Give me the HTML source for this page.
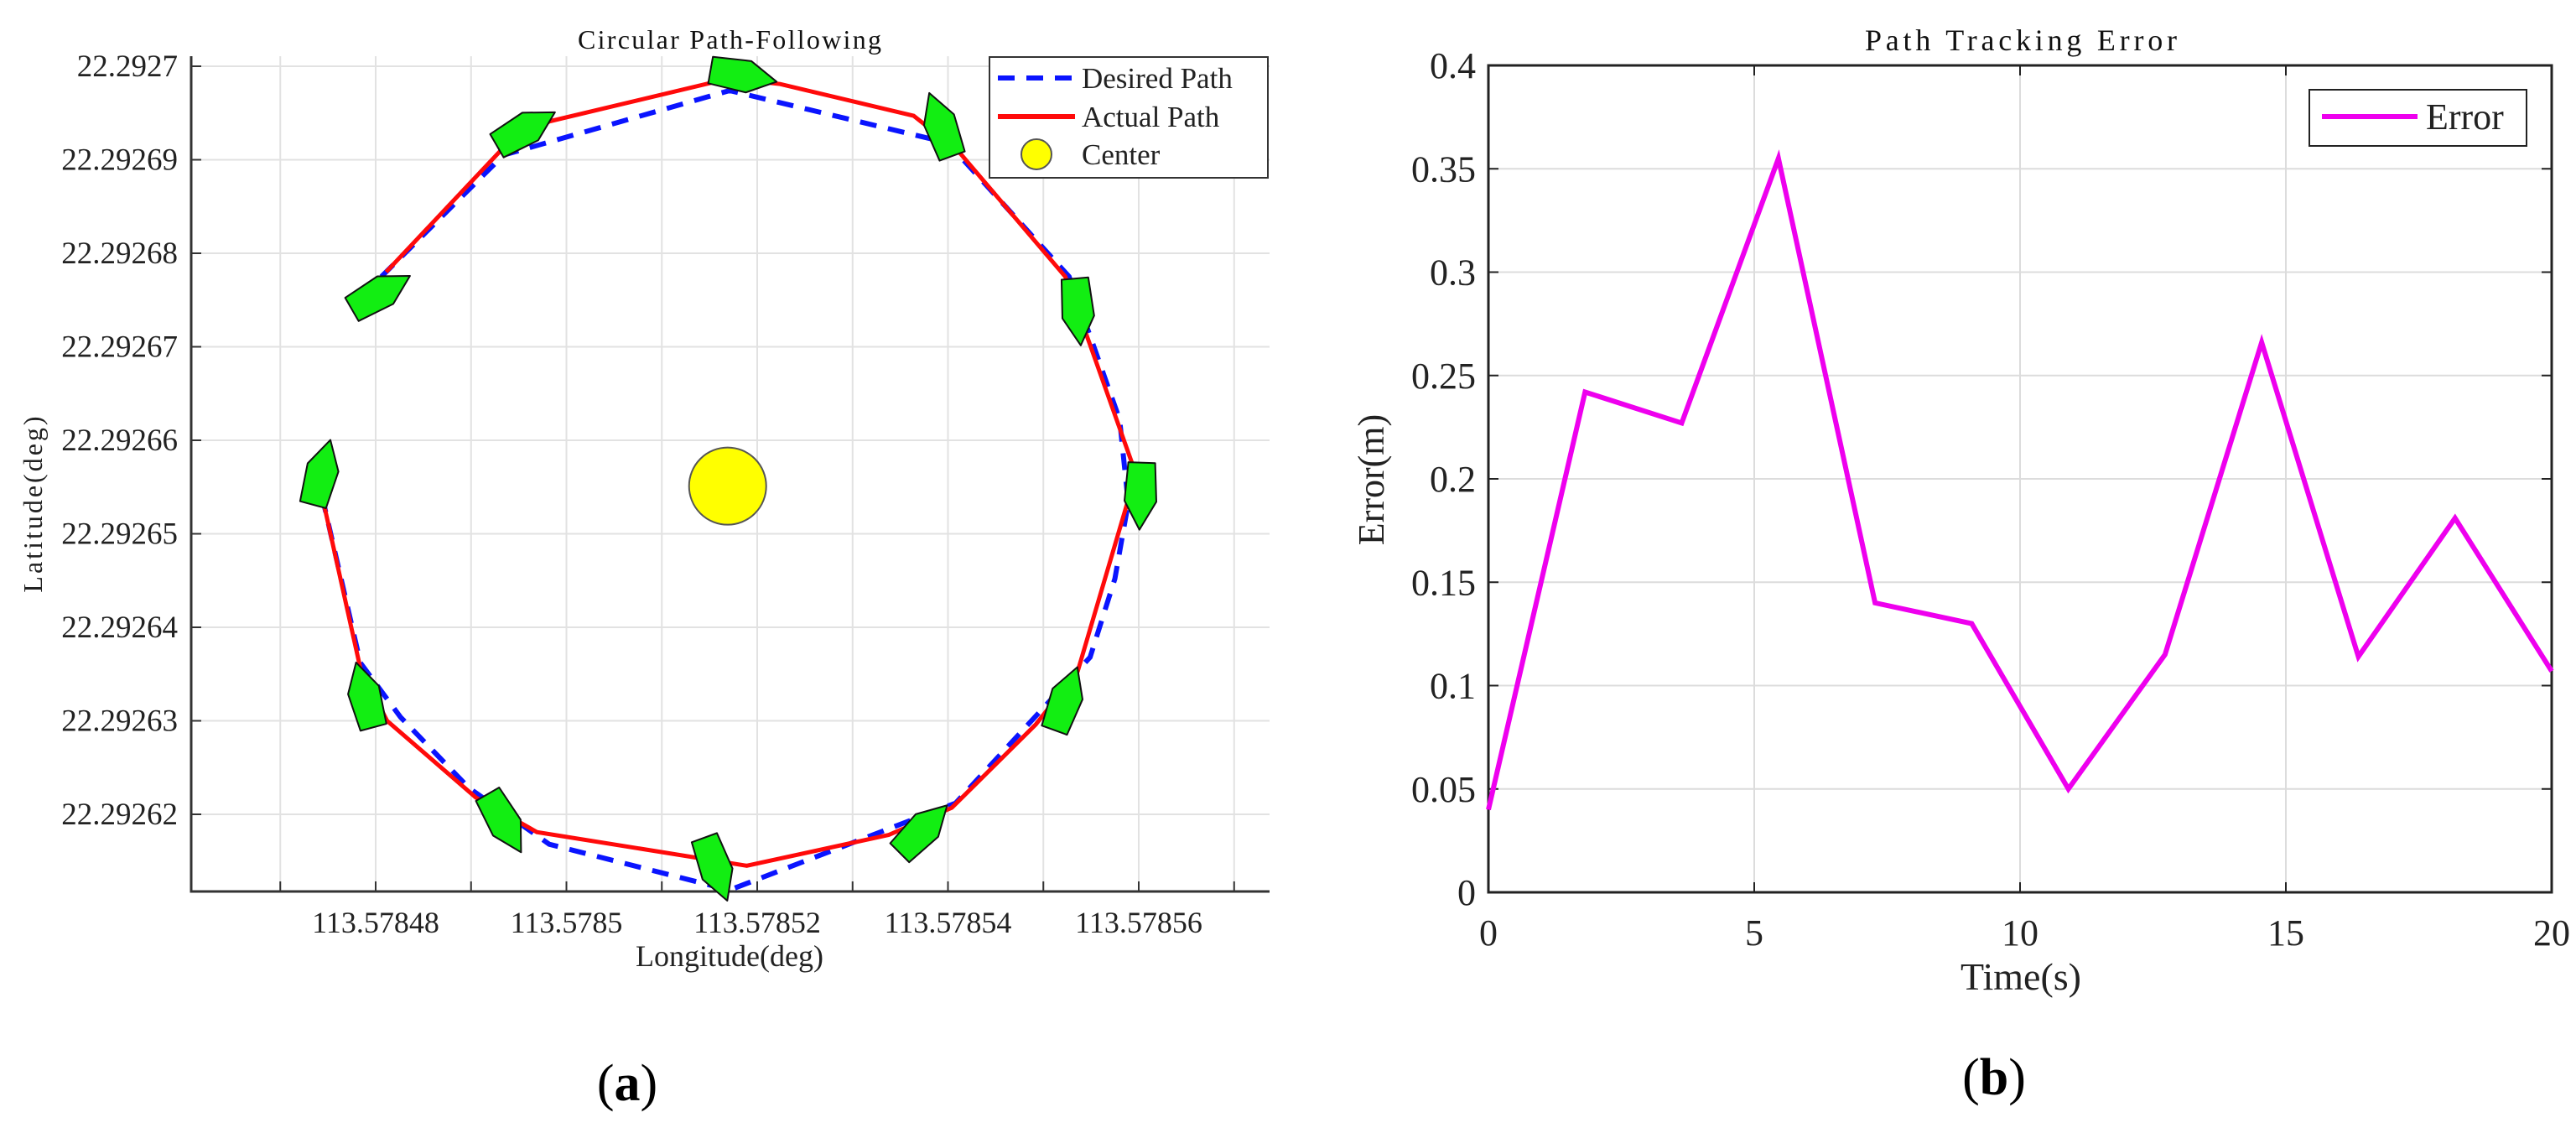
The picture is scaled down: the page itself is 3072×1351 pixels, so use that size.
<!DOCTYPE html>
<html><head><meta charset="utf-8"><style>
html,body{margin:0;padding:0;background:#fff;}
svg{display:block;font-family:"Liberation Serif",serif;}
</style></head><body>
<svg id="root" width="3072" height="1351" viewBox="0 0 3072 1351" xmlns="http://www.w3.org/2000/svg">
<g id="left"></g>
<g id="right"></g>
<text x="748" y="1312" font-size="62" text-anchor="middle">(<tspan font-weight="bold">a</tspan>)</text>
<text x="2378" y="1305" font-size="62" text-anchor="middle">(<tspan font-weight="bold">b</tspan>)</text>
</svg>
<script>
// ---- Left chart data ----
const desiredLon = [113.5784806,113.5784934,113.5785171,113.57854,113.5785527,113.578558,113.5785589,113.5785575,113.5785549,113.5785408,113.5785171,113.5784982,113.5784898,113.5784826,113.5784784,113.5784745];
const desiredLat = [22.2926775,22.2926905,22.2926974,22.2926918,22.2926775,22.2926622,22.2926533,22.2926452,22.2926368,22.2926212,22.2926119,22.2926168,22.2926228,22.2926304,22.2926362,22.2926535];
const actualLon = [113.5784811,113.5784934,113.5784982,113.5785171,113.5785224,113.5785364,113.5785411,113.5785523,113.5785549,113.5785597,113.5785536,113.5785492,113.5785404,113.5785338,113.5785189,113.5784969,113.5784905,113.5784812,113.5784784,113.5784745];
const actualLat = [22.292678,22.2926913,22.2926941,22.2926987,22.2926981,22.2926947,22.2926909,22.2926775,22.2926702,22.2926564,22.2926353,22.2926296,22.2926207,22.2926178,22.2926145,22.2926181,22.2926218,22.29263,22.2926356,22.2926535];
const boatLon = [113.5784804,113.5784956,113.5785184,113.5785393,113.5785536,113.5785602,113.5785523,113.5785373,113.5785156,113.5784934,113.5784789,113.5784743];
const boatLat = [22.2926757,22.2926932,22.292699,22.2926936,22.2926739,22.2926542,22.2926322,22.2926183,22.2926143,22.2926192,22.2926326,22.2926564];
const boatHeading = [60,60,100,340,175,182,20,45,160,150,345,15];
const centerLon = [113.5785169];
const centerLat = [22.2926551];
const lonTicks = [113.57847,113.57848,113.57849,113.5785,113.57851,113.57852,113.57853,113.57854,113.57855,113.57856,113.57857];
const lonTickLabels = ["","113.57848","","113.5785","","113.57852","","113.57854","","113.57856",""];
const latTicks = [22.29262,22.29263,22.29264,22.29265,22.29266,22.29267,22.29268,22.29269,22.2927];
const latTickLabels = ["22.29262","22.29263","22.29264","22.29265","22.29266","22.29267","22.29268","22.29269","22.2927"];
// ---- Right chart data ----
const timeVals = [0,1.818,3.636,5.455,7.273,9.091,10.909,12.727,14.545,16.364,18.182,20];
const errorVals = [0.04,0.242,0.227,0.355,0.14,0.13,0.05,0.115,0.266,0.114,0.181,0.107];
const timeTicks = [0,5,10,15,20];
const timeTickLabels = ["0","5","10","15","20"];
const errTicks = [0,0.05,0.1,0.15,0.2,0.25,0.3,0.35,0.4];
const errTickLabels = ["0","0.05","0.1","0.15","0.2","0.25","0.3","0.35","0.4"];

const NS="http://www.w3.org/2000/svg";
function mk(parent,tag,attrs,text){const e=document.createElementNS(NS,tag);for(const k in attrs)e.setAttribute(k,attrs[k]);if(text!==undefined)e.textContent=text;parent.appendChild(e);return e;}

// Left axes
const L=document.getElementById('left');
const lx0=228,lx1=1514,ly0=67,ly1=1063;
const xL=v=>448+(v-113.57848)/1e-5*113.75;
const yL=v=>971-(v-22.29262)/1e-5*111.5;
lonTicks.forEach((t,i)=>{const x=xL(t);if(x<=lx0||x>lx1)return;
 const g=mk(L,'line',{x1:x,y1:ly0,x2:x,y2:ly1,stroke:'#e2e2e2','stroke-width':2});
 
 
 const tk=mk(L,'line',{x1:x,y1:ly1,x2:x,y2:ly1-12,stroke:'#333','stroke-width':2});
 
 
 if(lonTickLabels[i]){const t2=mk(L,'text',{x:x,y:1112,'font-size':36,'text-anchor':'middle',fill:'#222'},lonTickLabels[i]);
 
 }
});
latTicks.forEach((t,i)=>{const y=yL(t);
 const g=mk(L,'line',{x1:lx0,y1:y,x2:lx1,y2:y,stroke:'#e2e2e2','stroke-width':2});
 
 
 const tk=mk(L,'line',{x1:lx0,y1:y,x2:lx0+12,y2:y,stroke:'#333','stroke-width':2});
 
 
 const t2=mk(L,'text',{x:212,y:y+12,'font-size':37,'text-anchor':'end',fill:'#222'},latTickLabels[i]);
 
 
});
const la=mk(L,'path',{d:`M${lx0} ${ly0}V${ly1}H${lx1}`,fill:'none',stroke:'#333','stroke-width':3});


const dp=mk(L,'polyline',{points:desiredLon.map((v,i)=>xL(v)+','+yL(desiredLat[i])).join(' '),fill:'none',stroke:'#0a14ff','stroke-width':6,'stroke-dasharray':'20 14'});


const ap=mk(L,'polyline',{points:actualLon.map((v,i)=>xL(v)+','+yL(actualLat[i])).join(' '),fill:'none',stroke:'#ff0a0a','stroke-width':5});


const boatShape="0,-42 19,-8 16,38 -16,38 -19,-8";
boatLon.forEach((v,i)=>{
 const b=mk(L,'polygon',{points:boatShape,transform:`translate(${xL(v)},${yL(boatLat[i])}) rotate(${boatHeading[i]})`,fill:'#12ee12',stroke:'#111','stroke-width':2,'stroke-linejoin':'round'});
 
 
});
const c=mk(L,'circle',{cx:xL(centerLon[0]),cy:yL(centerLat[0]),r:46,fill:'#ffff00',stroke:'#555','stroke-width':2});


const lt=mk(L,'text',{x:870,y:58,'font-size':32,'text-anchor':'middle',textLength:362,fill:'#111'},'Circular Path-Following');


const lxl=mk(L,'text',{x:870,y:1152,'font-size':36,'text-anchor':'middle',fill:'#222'},'Longitude(deg)');


const lyl=mk(L,'text',{x:0,y:0,'font-size':32,'text-anchor':'middle',fill:'#222','letter-spacing':3,transform:'translate(50,600) rotate(-90)'},'Latitude(deg)');


// legend
const lg=mk(L,'g',{});


mk(lg,'rect',{x:1180,y:68,width:332,height:144,fill:'#fff',stroke:'#333','stroke-width':2});
const le1=mk(lg,'line',{x1:1190,y1:93,x2:1282,y2:93,stroke:'#0a14ff','stroke-width':6,'stroke-dasharray':'20 14'});


const lt1=mk(lg,'text',{x:1290,y:105,'font-size':35,fill:'#222'},'Desired Path');


const le2=mk(lg,'line',{x1:1190,y1:139,x2:1282,y2:139,stroke:'#ff0a0a','stroke-width':6});


const lt2=mk(lg,'text',{x:1290,y:151,'font-size':35,fill:'#222'},'Actual Path');


const le3=mk(lg,'ellipse',{cx:1236,cy:184,rx:18,ry:18,fill:'#ffff00',stroke:'#555','stroke-width':2});


const lt3=mk(lg,'text',{x:1290,y:196,'font-size':35,fill:'#222'},'Center');



// Right axes
const R=document.getElementById('right');
const rx0=1775,rx1=3043,ry0=78,ry1=1064;
const xR=v=>rx0+v/20*(rx1-rx0);
const yR=v=>ry1-v/0.4*(ry1-ry0);
timeTicks.forEach((t,i)=>{const x=xR(t);
 const g=mk(R,'line',{x1:x,y1:ry0,x2:x,y2:ry1,stroke:'#dcdcdc','stroke-width':2});
 
 
 const tk=mk(R,'path',{d:`M${x} ${ry1}v-12M${x} ${ry0}v12`,stroke:'#222','stroke-width':2});
 
 
 const t2=mk(R,'text',{x:x,y:1127,'font-size':44,'text-anchor':'middle',fill:'#222'},timeTickLabels[i]);
 
 
});
errTicks.forEach((t,i)=>{const y=yR(t);
 const g=mk(R,'line',{x1:rx0,y1:y,x2:rx1,y2:y,stroke:'#dcdcdc','stroke-width':2});
 
 
 const tk=mk(R,'path',{d:`M${rx0} ${y}h12M${rx1} ${y}h-12`,stroke:'#222','stroke-width':2});
 
 
 const t2=mk(R,'text',{x:1760,y:y+15,'font-size':44,'text-anchor':'end',fill:'#222'},errTickLabels[i]);
 
 
});
const rb=mk(R,'rect',{x:rx0,y:ry0,width:rx1-rx0,height:ry1-ry0,fill:'none',stroke:'#222','stroke-width':3});


const el=mk(R,'polyline',{points:timeVals.map((t,i)=>xR(t)+','+yR(errorVals[i])).join(' '),fill:'none',stroke:'#ee00ee','stroke-width':6,'stroke-linejoin':'miter'});


const rt=mk(R,'text',{x:2410,y:60,'font-size':36,'text-anchor':'middle',textLength:372,fill:'#111'},'Path Tracking Error');


const rxl=mk(R,'text',{x:2410,y:1180,'font-size':46,'text-anchor':'middle',fill:'#222'},'Time(s)');


const ryl=mk(R,'text',{x:0,y:0,'font-size':44,'text-anchor':'middle',fill:'#222',transform:'translate(1650,572) rotate(-90)'},'Error(m)');


const rg=mk(R,'g',{});


mk(rg,'rect',{x:2754,y:107,width:259,height:67,fill:'#fff',stroke:'#222','stroke-width':2});
const re=mk(rg,'line',{x1:2769,y1:139,x2:2883,y2:139,stroke:'#ee00ee','stroke-width':6});


const rtx=mk(rg,'text',{x:2893,y:154,'font-size':44,fill:'#222'},'Error');


</script>
</body></html>
